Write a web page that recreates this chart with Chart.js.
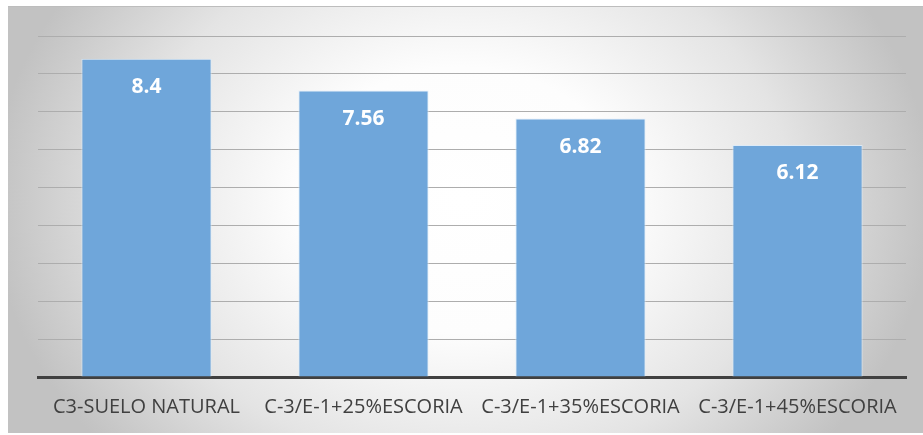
<!DOCTYPE html>
<html>
<head>
<meta charset="utf-8">
<script src="https://cdn.jsdelivr.net/npm/chart.js@4/dist/chart.umd.min.js"></script>
<style>
  html, body { margin: 0; padding: 0; background: #ffffff; }
  #wrap { width: 923px; height: 435px; position: relative; }
</style>
</head>
<body>
<div id="wrap"><canvas id="c" width="923" height="435"></canvas></div>
<script>
// Categories and measured values
const categories = [
  'C3-SUELO NATURAL',
  'C-3/E-1+25%ESCORIA',
  'C-3/E-1+35%ESCORIA',
  'C-3/E-1+45%ESCORIA'
];
const values = [8.4, 7.56, 6.82, 6.12];
const axisMin = 0;
const axisMax = 9;
const axisStep = 1;

// Soft grey-to-white panel behind the plot
const panelBackground = {
  id: 'panelBackground',
  beforeDraw(chart) {
    const ctx = chart.ctx;
    const x0 = 8, y0 = 6, x1 = chart.width, y1 = chart.height - 2;
    const cx = 462, cy = 200;
    const rx = 470, ry = 380;
    ctx.save();
    ctx.fillStyle = '#ffffff';
    ctx.fillRect(0, 0, chart.width, chart.height);
    ctx.beginPath();
    ctx.rect(x0, y0, x1 - x0, y1 - y0);
    ctx.clip();
    ctx.translate(cx, cy);
    ctx.scale(1, ry / rx);
    const g = ctx.createRadialGradient(0, 0, 0, 0, 0, rx);
    g.addColorStop(0, '#ffffff');
    g.addColorStop(0.35, '#fdfdfd');
    g.addColorStop(0.7, '#e4e4e4');
    g.addColorStop(1, '#c2c2c2');
    ctx.fillStyle = g;
    ctx.fillRect(-cx - 10, -(cy + 10) * rx / ry, chart.width + 20, (chart.height + 20) * rx / ry);
    ctx.restore();
    ctx.save();
    ctx.fillStyle = '#bdbdbd';
    ctx.fillRect(x0, y0, x1 - x0, 1);
    ctx.restore();
  }
};

// White value labels inside the top of each bar
const valueLabels = {
  id: 'valueLabels',
  afterDatasetsDraw(chart) {
    const ctx = chart.ctx;
    const meta = chart.getDatasetMeta(0);
    ctx.save();
    ctx.fillStyle = '#ffffff';
    ctx.font = 'bold 21px "Open Sans"';
    ctx.textAlign = 'center';
    ctx.textBaseline = 'middle';
    meta.data.forEach((bar, i) => {
      ctx.fillText(String(values[i]), bar.x, bar.y + 28);
    });
    ctx.restore();
  }
};

new Chart(document.getElementById('c'), {
  type: 'bar',
  data: {
    labels: categories,
    datasets: [{
      data: values,
      backgroundColor: '#6fa6da',
      borderColor: 'rgba(220,235,250,0.9)',
      borderWidth: 1,
      categoryPercentage: 0.6,
      barPercentage: 1.0
    }]
  },
  options: {
    responsive: false,
    animation: false,
    events: [],
    layout: { padding: { left: 38, right: 17, top: 36, bottom: 0 } },
    plugins: {
      legend: { display: false },
      tooltip: { enabled: false },
      title: { display: false }
    },
    scales: {
      x: {
        grid: { display: false, drawTicks: false },
        border: { display: true, color: '#404040', width: 3 },
        ticks: {
          color: '#404040',
          font: { family: '"Open Sans"', size: 20 },
          padding: 18,
          autoSkip: false,
          maxRotation: 0,
          minRotation: 0
        },
        afterFit(scale) { scale.height = 58; }
      },
      y: {
        min: axisMin,
        max: axisMax,
        ticks: { display: false, stepSize: axisStep },
        grid: { color: '#adadad', lineWidth: 1, drawTicks: false },
        border: { display: false },
        afterFit(scale) { scale.width = 0; }
      }
    }
  },
  plugins: [panelBackground, valueLabels]
});
</script>
</body>
</html>
